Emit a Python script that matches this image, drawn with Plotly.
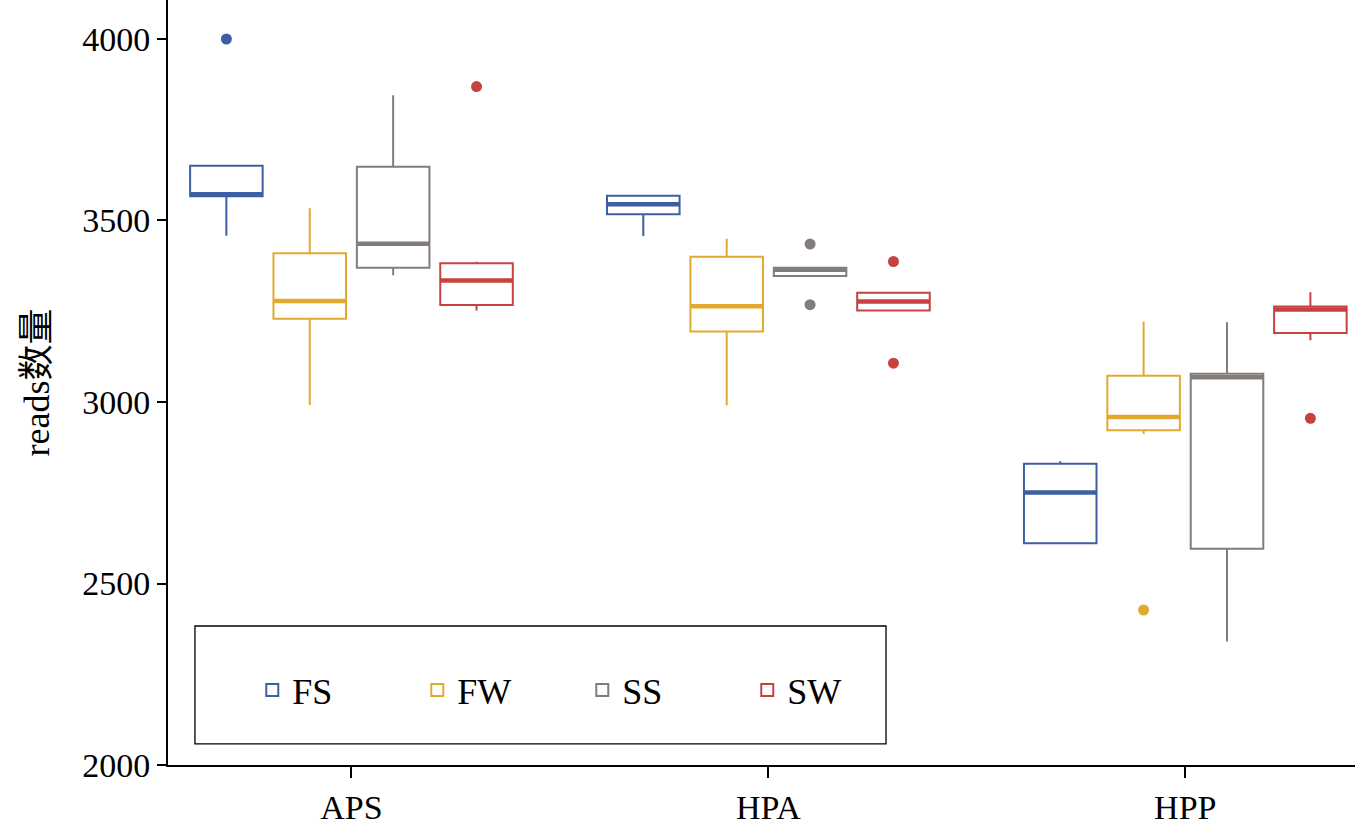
import plotly.graph_objects as go

categories = ["APS", "HPA", "HPP"]
groups = ["FS", "FW", "SS", "SW"]
colors = ["#3D5FA3", "#E1AA2F", "#837D7A", "#C5423F"]

# precomputed box statistics per group (APS, HPA, HPP)
fs_q1 = [3567, 3517, 2611]
fs_median = [3572, 3545, 2751]
fs_q3 = [3651, 3568, 2830]
fs_lower = [3458, 3457, 2611]
fs_upper = [3651, 3568, 2837]
fs_out_x = ["APS"]
fs_out_y = [4000]

fw_q1 = [3229, 3194, 2922]
fw_median = [3278, 3264, 2959]
fw_q3 = [3410, 3400, 3072]
fw_lower = [2992, 2990, 2912]
fw_upper = [3534, 3450, 3222]
fw_out_x = ["HPP"]
fw_out_y = [2427]

ss_q1 = [3370, 3347, 2596]
ss_median = [3436, 3364, 3068]
ss_q3 = [3648, 3370, 3078]
ss_lower = [3349, 3347, 2340]
ss_upper = [3845, 3370, 3220]
ss_out_x = ["HPA", "HPA"]
ss_out_y = [3435, 3268]

sw_q1 = [3267, 3252, 3190]
sw_median = [3335, 3277, 3255]
sw_q3 = [3382, 3301, 3263]
sw_lower = [3252, 3252, 3170]
sw_upper = [3386, 3301, 3302]
sw_out_x = ["APS", "HPA", "HPA", "HPP"]
sw_out_y = [3869, 3387, 3107, 2955]

y_ticks = [2000, 2500, 3000, 3500, 4000]

stats = {
    "FS": (fs_q1, fs_median, fs_q3, fs_lower, fs_upper, fs_out_x, fs_out_y),
    "FW": (fw_q1, fw_median, fw_q3, fw_lower, fw_upper, fw_out_x, fw_out_y),
    "SS": (ss_q1, ss_median, ss_q3, ss_lower, ss_upper, ss_out_x, ss_out_y),
    "SW": (sw_q1, sw_median, sw_q3, sw_lower, sw_upper, sw_out_x, sw_out_y),
}

SERIF = "Liberation Serif, Times New Roman, Noto Sans CJK SC, serif"

fig = go.Figure()
for g, c in zip(groups, colors):
    q1, med, q3, lo, up, ox, oy = stats[g]
    fig.add_trace(go.Box(
        name=g, x=categories, q1=q1, median=med, q3=q3,
        lowerfence=lo, upperfence=up,
        offsetgroup=g, alignmentgroup="all",
        line=dict(color=c, width=2), fillcolor="rgba(255,255,255,0)",
        whiskerwidth=0, boxpoints=False, hoverinfo="skip",
    ))
    # thicker median line
    fig.add_trace(go.Box(
        name=g, x=categories, q1=med, median=med, q3=med,
        lowerfence=med, upperfence=med,
        offsetgroup=g, alignmentgroup="all",
        line=dict(color=c, width=4.5), fillcolor="rgba(255,255,255,0)",
        whiskerwidth=0, boxpoints=False, showlegend=False, hoverinfo="skip",
    ))
    fig.add_trace(go.Scatter(
        x=ox, y=oy, mode="markers", offsetgroup=g,
        marker=dict(color=c, size=11), showlegend=False, hoverinfo="skip",
    ))

fig.update_layout(
    width=1365, height=834,
    paper_bgcolor="white", plot_bgcolor="white",
    margin=dict(l=168, r=10, t=0, b=69),
    boxmode="group", boxgap=0.2, boxgroupgap=0.13,
    scattermode="group", scattergap=0.2,
    font=dict(family=SERIF, size=34, color="black"),
    showlegend=True,
    legend=dict(
        orientation="h", x=0.071, y=0.098, xanchor="left", yanchor="middle",
        bgcolor="rgba(0,0,0,0)", borderwidth=0,
        font=dict(family=SERIF, size=36, color="black"),
        entrywidth=120, entrywidthmode="pixels",
    ),
    shapes=[dict(type="rect", xref="paper", yref="paper",
                 x0=0.0227, x1=0.6049, y0=0.0275, y1=0.1817,
                 line=dict(color="black", width=1.3), fillcolor="rgba(0,0,0,0)")],
)
fig.update_xaxes(
    type="category", categoryorder="array", categoryarray=categories,
    range=[-0.44, 2.407],
    showline=True, linecolor="black", linewidth=2,
    ticks="outside", ticklen=11, tickwidth=2, tickcolor="black",
    showgrid=False, zeroline=False,
    tickfont=dict(family=SERIF, size=34, color="black"),
)
fig.update_yaxes(
    range=[2000, 4107.4], tickvals=y_ticks,
    showline=True, linecolor="black", linewidth=2,
    ticks="outside", ticklen=9, tickwidth=2, tickcolor="black",
    showgrid=False, zeroline=False,
    tickfont=dict(family=SERIF, size=34, color="black"),
    title=dict(text="reads数量", standoff=22,
               font=dict(family=SERIF, size=36, color="black")),
)

fig.write_html("out.html", config={"displayModeBar": False},
               post_script="document.body.style.margin='0';document.body.style.padding='0';")
